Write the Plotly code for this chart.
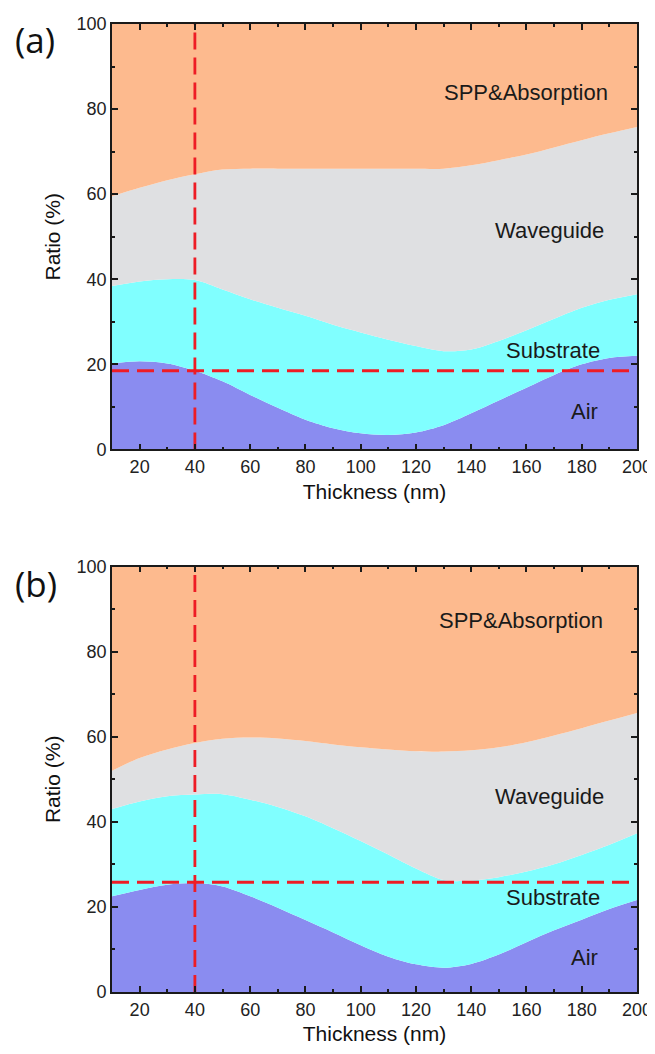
import plotly.graph_objects as go
from plotly.subplots import make_subplots

thickness = [10, 20, 30, 40, 50, 60, 70, 80, 90, 100, 110, 120, 130, 140, 150, 160, 170, 180, 190, 200]

# Panel (a) ratios (%)
air_a = [20.2, 20.7, 20.2, 18.5, 16.0, 12.8, 9.8, 7.0, 5.0, 3.8, 3.4, 4.0, 5.7, 8.5, 11.5, 14.5, 17.5, 20.0, 21.5, 22.0]
sub_a = [18.2, 18.8, 19.8, 21.3, 21.6, 22.5, 23.5, 24.4, 24.3, 23.7, 22.4, 20.3, 17.4, 15.0, 14.0, 13.5, 13.2, 13.3, 13.7, 14.5]
wg_a = [21.1, 22.0, 23.3, 24.9, 28.2, 30.7, 32.7, 34.6, 36.7, 38.5, 40.2, 41.7, 42.9, 43.3, 42.5, 41.3, 40.3, 39.4, 39.1, 39.3]
spp_a = [40.5, 38.5, 36.7, 35.3, 34.2, 34.0, 34.0, 34.0, 34.0, 34.0, 34.0, 34.0, 34.0, 33.2, 32.0, 30.7, 29.0, 27.3, 25.7, 24.2]

# Panel (b) ratios (%)
air_b = [22.5, 24.0, 25.2, 25.6, 24.8, 22.5, 19.8, 16.9, 14.0, 11.0, 8.3, 6.5, 5.7, 6.6, 8.8, 11.7, 14.5, 17.0, 19.5, 21.6]
sub_b = [20.5, 20.8, 20.8, 20.8, 21.7, 22.7, 23.7, 24.4, 24.5, 24.5, 24.0, 22.5, 20.6, 19.6, 18.2, 16.6, 15.5, 15.2, 15.1, 15.7]
wg_b = [9.0, 10.2, 11.0, 12.1, 13.0, 14.6, 16.1, 17.7, 19.7, 22.0, 24.7, 27.6, 30.2, 30.6, 30.5, 30.4, 30.3, 29.8, 29.2, 28.3]
spp_b = [48.0, 45.0, 43.0, 41.5, 40.5, 40.2, 40.4, 41.0, 41.8, 42.5, 43.0, 43.4, 43.5, 43.2, 42.5, 41.3, 39.7, 38.0, 36.2, 34.4]

series_names = ["Air", "Substrate", "Waveguide", "SPP&Absorption"]
colors = ["#8A8CF0", "#80FFFF", "#DFE0E2", "#FDBA8E"]

x_marker = 40
h_marker_a = 18.5
h_marker_b = 25.8

fig = make_subplots(rows=2, cols=1, vertical_spacing=0.121)

panels = [
    (1, [air_a, sub_a, wg_a, spp_a], "a"),
    (2, [air_b, sub_b, wg_b, spp_b], "b"),
]
for row, data, grp in panels:
    for name, vals, col in zip(series_names, data, colors):
        fig.add_trace(go.Scatter(
            x=thickness, y=vals, name=name, stackgroup=grp,
            mode="lines", line=dict(width=0, color=col, shape="spline", smoothing=0.9),
            fillcolor=col, showlegend=False, hoverinfo="skip"),
            row=row, col=1)

red = "#EE1C25"
for row, hval in [(1, h_marker_a), (2, h_marker_b)]:
    fig.add_trace(go.Scatter(x=[x_marker, x_marker], y=[0, 100], mode="lines",
                             line=dict(color=red, width=2.8, dash="17px,8px"),
                             showlegend=False, hoverinfo="skip"), row=row, col=1)
    fig.add_trace(go.Scatter(x=[10, 200], y=[hval, hval], mode="lines",
                             line=dict(color=red, width=2.8, dash="17px,8px"),
                             showlegend=False, hoverinfo="skip"), row=row, col=1)

axis_common = dict(
    showline=True, linecolor="#1a1a1a", linewidth=1.8, mirror="allticks",
    ticks="inside", ticklen=6, tickwidth=1.8, tickcolor="#1a1a1a",
    showgrid=False, zeroline=False, automargin=False,
    tickfont=dict(family="Liberation Sans, Arial", size=18, color="#222"),
)
for row in (1, 2):
    fig.update_xaxes(range=[10, 200], tick0=20, dtick=20,
                     minor=dict(ticks="inside", ticklen=3, tickwidth=1.8, dtick=10, tick0=10, tickcolor="#1a1a1a", showgrid=False),
                     title=dict(text="Thickness (nm)", font=dict(family="Liberation Sans, Arial", size=21, color="#111"), standoff=8),
                     row=row, col=1, **axis_common)
    fig.update_yaxes(range=[0, 100], tick0=0, dtick=20,
                     minor=dict(ticks="inside", ticklen=3, tickwidth=1.8, dtick=10, tick0=0, tickcolor="#1a1a1a", showgrid=False),
                     title=dict(text="Ratio (%)", font=dict(family="Liberation Sans, Arial", size=21, color="#111"), standoff=10),
                     row=row, col=1, **axis_common)

lab_font = dict(family="Liberation Sans, Arial", size=22, color="#1a1a1a")
labels_a = [("SPP&Absorption", 160, 84), ("Waveguide", 168.5, 51.5), ("Substrate", 169.5, 23.3), ("Air", 181, 9)]
labels_b = [("SPP&Absorption", 158, 87.3), ("Waveguide", 168.5, 45.9), ("Substrate", 169.5, 22.1), ("Air", 181, 8.2)]
for ref, labels in [(("x", "y"), labels_a), (("x2", "y2"), labels_b)]:
    for txt, xv, yv in labels:
        fig.add_annotation(x=xv, y=yv, xref=ref[0], yref=ref[1], text=txt,
                           showarrow=False, font=lab_font, xanchor="center", yanchor="middle")

panel_font = dict(family="Open Sans, Noto Sans, sans-serif", size=35, color="#111")
fig.add_annotation(x=-0.189, y=0.9835, xref="paper", yref="paper", text="(a)", showarrow=False,
                   font=panel_font, xanchor="left", yanchor="middle")
fig.add_annotation(x=-0.189, y=0.4225, xref="paper", yref="paper", text="(b)", showarrow=False,
                   font=panel_font, xanchor="left", yanchor="middle")

fig.update_layout(
    width=647, height=1046,
    margin=dict(l=104, r=18, t=16, b=62, autoexpand=False),
    paper_bgcolor="white", plot_bgcolor="white",
    showlegend=False,
)

fig.write_html("out.html")
